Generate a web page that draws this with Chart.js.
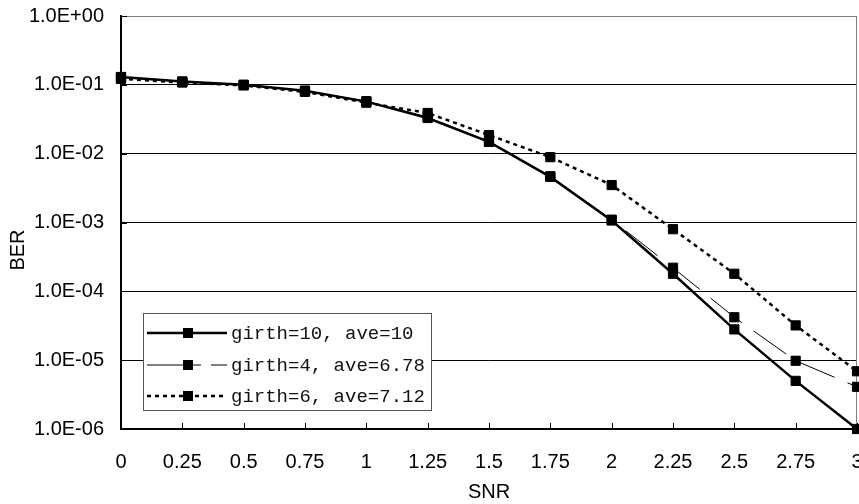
<!DOCTYPE html>
<html>
<head>
<meta charset="utf-8">
<script src="https://cdn.jsdelivr.net/npm/chart.js@4/dist/chart.umd.min.js"></script>
<style>
  body { margin: 0; background: #fff; }
  #wrap { width: 859px; height: 504px; }
</style>
</head>
<body>
<div id="wrap"><canvas id="myChart" width="859" height="504"></canvas></div>
<script>
// data
var snr = [0, 0.25, 0.5, 0.75, 1, 1.25, 1.5, 1.75, 2, 2.25, 2.5, 2.75, 3];
var berGirth10 = [0.13, 0.112, 0.1, 0.082, 0.057, 0.033, 0.0148, 4.6e-3, 1.07e-3, 1.8e-4, 2.8e-5, 5.0e-6, 1.0e-6];
var berGirth4 = [0.128, 0.111, 0.1, 0.082, 0.058, 0.034, 0.015, 4.7e-3, 1.1e-3, 2.2e-4, 4.2e-5, 9.8e-6, 4.1e-6];
var berGirth6 = [0.122, 0.108, 0.098, 0.079, 0.055, 0.039, 0.0186, 8.9e-3, 3.5e-3, 8.0e-4, 1.8e-4, 3.2e-5, 6.9e-6];
var seriesNames = ['girth=10, ave=10', 'girth=4, ave=6.78', 'girth=6, ave=7.12'];

var yTickValues = [1e-6, 1e-5, 1e-4, 1e-3, 1e-2, 1e-1, 1];
var yTickLabels = ['1.0E-06', '1.0E-05', '1.0E-04', '1.0E-03', '1.0E-02', '1.0E-01', '1.0E+00'];
var xTickValues = [0, 0.25, 0.5, 0.75, 1, 1.25, 1.5, 1.75, 2, 2.25, 2.5, 2.75, 3];
var xTickLabels = ['0', '0.25', '0.5', '0.75', '1', '1.25', '1.5', '1.75', '2', '2.25', '2.5', '2.75', '3'];

function pairs(ys) {
  return snr.map(function (x, i) { return { x: x, y: ys[i] }; });
}

var styles = [
  { width: 2.5, dash: [] },
  { width: 1, dash: [40, 14] },
  { width: 2.5, dash: [4, 4] }
];

var datasets = [berGirth10, berGirth4, berGirth6].map(function (ys, i) {
  return {
    label: seriesNames[i],
    data: pairs(ys),
    borderColor: '#000',
    backgroundColor: '#000',
    borderWidth: styles[i].width,
    borderDash: styles[i].dash,
    pointStyle: 'rect',
    pointRadius: 6.5,
    pointBorderWidth: 1,
    pointBorderColor: '#000',
    pointBackgroundColor: '#000',
    tension: 0,
    clip: false
  };
});

var axisFont = '"Liberation Sans", Arial, sans-serif';

// frame, inside ticks, BER title and the boxed legend
var extras = {
  id: 'extras',
  beforeDatasetsDraw: function (chart) {
    var c = chart.ctx, a = chart.chartArea;
    c.save();
    c.strokeStyle = '#808080';
    c.lineWidth = 1;
    c.beginPath();
    c.moveTo(a.left, a.top + 0.5);
    c.lineTo(a.right - 0.5, a.top + 0.5);
    c.lineTo(a.right - 0.5, a.bottom);
    c.stroke();
    c.strokeStyle = '#000';
    c.lineWidth = 1;
    var xs = chart.scales.x, ys = chart.scales.y;
    c.beginPath();
    xTickValues.forEach(function (v) {
      var px = Math.round(xs.getPixelForValue(v)) + 0.5;
      c.moveTo(px, a.bottom);
      c.lineTo(px, a.bottom - 6);
    });
    yTickValues.forEach(function (v) {
      var py = Math.round(ys.getPixelForValue(v)) + 0.5;
      c.moveTo(a.left, py);
      c.lineTo(a.left + 6, py);
    });
    c.stroke();
    c.restore();
  },
  afterDraw: function (chart) {
    var c = chart.ctx;
    c.save();
    c.fillStyle = '#000';
    c.font = '20px ' + axisFont;
    c.textAlign = 'center';
    c.textBaseline = 'middle';
    c.translate(18, 250);
    c.rotate(-Math.PI / 2);
    c.fillText('BER', 0, 0);
    c.restore();

    // legend box
    var bx = 143, by = 313, bw = 288, bh = 97;
    c.save();
    c.fillStyle = '#fff';
    c.fillRect(bx, by, bw, bh);
    c.strokeStyle = '#555';
    c.lineWidth = 1;
    c.strokeRect(bx + 0.5, by + 0.5, bw, bh);
    var rows = [333, 365, 396];
    rows.forEach(function (ry, i) {
      c.strokeStyle = '#000';
      c.lineWidth = styles[i].width;
      c.setLineDash(i === 1 ? [54, 10] : styles[i].dash);
      c.beginPath();
      c.moveTo(147, ry);
      c.lineTo(227, ry);
      c.stroke();
      c.setLineDash([]);
      c.fillStyle = '#000';
      c.fillRect(183, ry - 5, 10, 10);
      c.fillStyle = '#111';
      c.font = '19px "Liberation Mono", "DejaVu Sans Mono", monospace';
      c.textAlign = 'left';
      c.textBaseline = 'middle';
      c.fillText(seriesNames[i], 231, ry + 1);
    });
    c.restore();
  }
};

var ctx = document.getElementById('myChart');
var myChart = new Chart(ctx, {
  type: 'line',
  data: { datasets: datasets },
  plugins: [extras],
  options: {
    responsive: false,
    animation: false,
    layout: { autoPadding: false, padding: { top: 16, right: 2, left: 0, bottom: 0 } },
    plugins: {
      legend: { display: false },
      tooltip: { enabled: false }
    },
    scales: {
      x: {
        type: 'linear',
        min: 0,
        max: 3,
        afterBuildTicks: function (scale) {
          scale.ticks = xTickValues.map(function (v) { return { value: v }; });
        },
        afterFit: function (scale) {
          scale.height = 75;
          scale.paddingLeft = 0;
          scale.paddingRight = 0;
        },
        grid: { display: true, drawOnChartArea: false, drawTicks: false },
        border: { display: true, color: '#000', width: 2 },
        ticks: {
          autoSkip: false,
          maxRotation: 0,
          padding: 21,
          color: '#000',
          font: { family: axisFont, size: 20 },
          callback: function (v, i) { return xTickLabels[i]; }
        },
        title: {
          display: true,
          text: 'SNR',
          color: '#000',
          padding: { top: 0, bottom: 0 },
          font: { family: axisFont, size: 20 }
        }
      },
      y: {
        type: 'logarithmic',
        min: 1e-6,
        max: 1,
        afterBuildTicks: function (scale) {
          scale.ticks = yTickValues.map(function (v) { return { value: v }; });
        },
        afterFit: function (scale) {
          scale.width = 121;
          scale.paddingTop = 0;
          scale.paddingBottom = 0;
        },
        grid: { color: '#000', lineWidth: 1, drawTicks: false },
        border: { display: true, color: '#000', width: 2 },
        ticks: {
          autoSkip: false,
          padding: 17,
          color: '#000',
          font: { family: axisFont, size: 20 },
          callback: function (v, i) { return yTickLabels[i]; }
        }
      }
    }
  }
});
</script>
</body>
</html>
